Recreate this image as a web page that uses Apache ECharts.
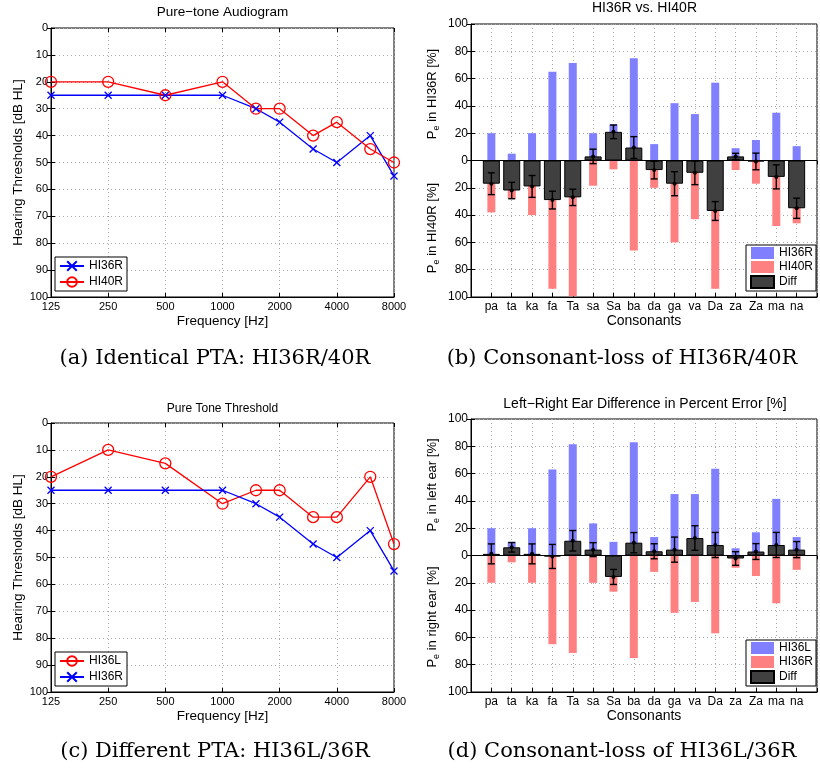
<!DOCTYPE html>
<html><head><meta charset="utf-8">
<script src="https://cdn.jsdelivr.net/npm/echarts@6/dist/echarts.min.js"></script>
<style>html,body{margin:0;padding:0;background:#fff}#c{width:820px;height:773px}</style>
</head><body><div id="c"></div>
<script>
// ---------- DATA ----------
const freqs = [125, 250, 500, 1000, 1500, 2000, 3000, 4000, 6000, 8000];
const freqTickLabels = ['125', '250', '500', '1000', '2000', '4000', '8000'];
const hi36R_thr = [25, 25, 25, 25, 30, 35, 45, 50, 40, 55];
const hi40R_thr = [20, 20, 25, 20, 30, 30, 40, 35, 45, 50];
const hi36L_thr = [20, 10, 15, 30, 25, 25, 35, 35, 20, 45];

const consonants = ['pa','ta','ka','fa','Ta','sa','Sa','ba','da','ga','va','Da','za','Za','ma','na'];
// percent error per consonant
const hi36R_pe = [20, 5, 20, 65, 71.5, 20, 26.5, 75, 12, 42, 34, 57, 9, 15, 35, 10.5];
const hi40R_pe = [38, 28, 40, 94, 99.5, 18.5, 6.5, 66, 20, 60, 43, 94, 7, 17, 48, 46];
const hi36L_pe = [20, 10, 20, 63, 81.5, 23.5, 10, 83, 13.5, 45, 45, 63.5, 5.3, 17, 41.5, 13.5];
// differences and error-bar half widths
const diffB = [-17, -22, -19, -29, -27, 3, 21, 9.5, -7, -17, -9, -37, 3, -0.7, -12, -35];
const errB  = [8, 6, 8, 6.5, 6, 5.3, 5, 8, 6.5, 8.8, 8.7, 6.9, 2.3, 6.1, 8.8, 7.4];
const diffD = [1.2, 6, 1.2, -0.7, 10.8, 4.3, -15.7, 9.4, 3.1, 4.3, 12.8, 7.7, -2.2, 2.9, 7.7, 4.3];
const errD  = [7.3, 3.5, 7.3, 8.8, 7.5, 5.1, 5.5, 7.4, 5.5, 9.2, 9, 9.2, 5, 5.8, 9.2, 5.9];

// ---------- CHART ----------
const FONT = 'Liberation Sans';
const SERIF = 'DejaVu Serif';
const chart = echarts.init(document.getElementById('c'), null, {renderer: 'canvas'});
const oct = f => Math.log(f / freqs[0]) / Math.LN2;
const dotted = {show: true, lineStyle: {type: [1, 3], color: '#a8a8a8', width: 1}};
const tick = {show: true, inside: true, length: 4, lineStyle: {color: '#000'}};
const line = {show: true, onZero: false, lineStyle: {color: '#000', width: 1}};
const nameStyle = sz => ({fontSize: sz, color: '#000', fontFamily: FONT});

const gridBase = {show: true, borderColor: '#000', borderWidth: 1, backgroundColor: '#fff'};
const grids = [
  Object.assign({left: 51, top: 28, width: 343, height: 269}, gridBase),
  Object.assign({left: 471, top: 24, width: 347, height: 273}, gridBase),
  Object.assign({left: 51, top: 423, width: 343, height: 269}, gridBase),
  Object.assign({left: 471, top: 419, width: 347, height: 273}, gridBase)
];

function audioX(g) {
  return [
    {type: 'value', gridIndex: g, min: 0, max: 6, interval: 1, position: 'bottom',
     axisLine: line, axisTick: tick, splitLine: dotted,
     axisLabel: {margin: 4, fontSize: 11, color: '#000', fontFamily: FONT, showMinLabel: true, showMaxLabel: true,
                 formatter: v => freqTickLabels[Math.round(v)] ?? ''},
     name: 'Frequency [Hz]', nameLocation: 'middle', nameGap: 17, nameTextStyle: nameStyle(13.5)},
    {type: 'value', gridIndex: g, min: 0, max: 6, interval: 1, position: 'top',
     axisLine: {show: false}, axisTick: tick, axisLabel: {show: false}, splitLine: {show: false}}
  ];
}
function audioY(g) {
  return [
    {type: 'value', gridIndex: g, inverse: true, min: 0, max: 100, interval: 10, position: 'left',
     axisLine: line, axisTick: tick, splitLine: dotted,
     axisLabel: {margin: 3, fontSize: 11, color: '#000', fontFamily: FONT, showMinLabel: true, showMaxLabel: true},
     name: 'Hearing Thresholds [dB HL]', nameLocation: 'middle', nameGap: 26, nameTextStyle: nameStyle(13.5)},
    {type: 'value', gridIndex: g, inverse: true, min: 0, max: 100, interval: 10, position: 'right',
     axisLine: {show: false}, axisTick: tick, axisLabel: {show: false}, splitLine: {show: false}}
  ];
}
function barX(g) {
  return [
    {type: 'value', gridIndex: g, min: 0, max: 17, interval: 1, position: 'bottom',
     axisLine: line, axisTick: tick, splitLine: dotted,
     axisLabel: {margin: 4, fontSize: 12, color: '#000', fontFamily: FONT,
                 formatter: v => consonants[Math.round(v) - 1] ?? ''},
     name: 'Consonants', nameLocation: 'middle', nameGap: 15, nameTextStyle: nameStyle(14)},
    {type: 'value', gridIndex: g, min: 0, max: 17, interval: 1, position: 'top',
     axisLine: {show: false}, axisTick: tick, axisLabel: {show: false}, splitLine: {show: false}}
  ];
}
function barY(g) {
  return [
    {type: 'value', gridIndex: g, min: -100, max: 100, interval: 20, position: 'left',
     axisLine: line, axisTick: tick, splitLine: dotted,
     axisLabel: {margin: 3, fontSize: 12, color: '#000', fontFamily: FONT, showMinLabel: true, showMaxLabel: true,
                 formatter: v => String(Math.abs(v))}},
    {type: 'value', gridIndex: g, min: -100, max: 100, interval: 20, position: 'right',
     axisLine: {show: false}, axisTick: tick, axisLabel: {show: false}, splitLine: {show: false}}
  ];
}

const XSYM = 'path://M0,0L10,10M10,0L0,10';
function blueX(name, xi, yi, vals) {
  return {name, type: 'line', xAxisIndex: xi, yAxisIndex: yi,
    data: freqs.map((f, i) => [oct(f), vals[i]]),
    symbol: XSYM, symbolSize: 7, showAllSymbol: true,
    lineStyle: {color: '#0000ff', width: 1.3},
    itemStyle: {color: '#0000ff', borderColor: '#0000ff', borderWidth: 1.3}, z: 3};
}
function redO(name, xi, yi, vals) {
  return {name, type: 'line', xAxisIndex: xi, yAxisIndex: yi,
    data: freqs.map((f, i) => [oct(f), vals[i]]),
    symbol: 'circle', symbolSize: 11, showAllSymbol: true,
    lineStyle: {color: '#ff0000', width: 1.3},
    itemStyle: {color: 'rgba(255,255,255,0)', borderColor: '#ff0000', borderWidth: 1.3}, z: 3};
}
function errRender(params, api) {
  const x = api.value(0), y = api.value(1), e = api.value(2);
  const t = api.coord([x, y + e]), b = api.coord([x, y - e]), m = api.coord([x, y]);
  const c = 3.5, st = {stroke: '#000', lineWidth: 1.4};
  return {type: 'group', children: [
    {type: 'line', shape: {x1: t[0], y1: t[1], x2: b[0], y2: b[1]}, style: st},
    {type: 'line', shape: {x1: t[0] - c, y1: t[1], x2: t[0] + c, y2: t[1]}, style: st},
    {type: 'line', shape: {x1: b[0] - c, y1: b[1], x2: b[0] + c, y2: b[1]}, style: st},
    {type: 'circle', shape: {cx: m[0], cy: m[1], r: 2}, style: {fill: '#000'}}
  ]};
}
function barSeries(prefix, xi, yi, upName, upVals, downName, downVals, diffVals, errVals) {
  return [
    {name: prefix + upName, type: 'bar', xAxisIndex: xi, yAxisIndex: yi, barWidth: 8, barGap: '-100%',
     data: consonants.map((c, i) => [i + 1, upVals[i]]), itemStyle: {color: '#8080ff'}, z: 2},
    {name: prefix + downName, type: 'bar', xAxisIndex: xi, yAxisIndex: yi, barWidth: 8, barGap: '-100%',
     data: consonants.map((c, i) => [i + 1, -downVals[i]]), itemStyle: {color: '#ff8080'}, z: 2},
    {name: prefix + 'Diff', type: 'bar', xAxisIndex: xi + 1, yAxisIndex: yi, barWidth: 17,
     data: consonants.map((c, i) => [i + 1, diffVals[i]]),
     itemStyle: {color: '#404040', borderColor: '#000', borderWidth: 1}, z: 3,
     markLine: {silent: true, symbol: 'none', label: {show: false}, animation: false,
                lineStyle: {color: '#000', width: 1.2, type: 'solid'}, data: [{yAxis: 0}]}},
    {type: 'custom', xAxisIndex: xi + 1, yAxisIndex: yi, renderItem: errRender, z: 4,
     encode: {x: 0, y: 1},
     data: consonants.map((c, i) => [i + 1, diffVals[i], errVals[i]])}
  ];
}

const legendBase = {orient: 'vertical', selectedMode: false, borderColor: '#000', borderWidth: 1,
  backgroundColor: '#fff', borderRadius: 0, textStyle: {fontSize: 12, color: '#000', fontFamily: FONT},
  formatter: n => n.slice(2)};

function txt(x, y, text, size, font, extra) {
  return Object.assign({type: 'text', x, y, z: 10,
    style: {text, fontSize: size, fontFamily: font, fill: '#000', align: 'center', verticalAlign: 'middle'}}, extra || {});
}
function peName(x, y, rest) {
  return {type: 'text', x, y, rotation: Math.PI / 2, z: 10,
    style: {text: 'P{s|e} ' + rest, fontSize: 13, fontFamily: FONT, fill: '#000', align: 'center', verticalAlign: 'middle',
            rich: {s: {fontSize: 9, fontFamily: FONT, fill: '#000', padding: [9, 0, 0, 0]}}}};
}

const option = {
  animation: false,
  backgroundColor: '#fff',
  grid: grids,
  xAxis: [...audioX(0), ...barX(1), ...audioX(2), ...barX(3)],
  yAxis: [...audioY(0), ...barY(1), ...audioY(2), ...barY(3)],
  legend: [
    Object.assign({data: ['a:HI36R', 'a:HI40R'], left: 55, top: 257, itemWidth: 24, itemHeight: 12, itemGap: 4, padding: [3, 4, 3, 4]}, legendBase),
    Object.assign({data: ['b:HI36R', 'b:HI40R', 'b:Diff'], left: 746, top: 245, itemWidth: 23, itemHeight: 12, itemGap: 2, padding: [2, 3, 2, 4], icon: 'rect'}, legendBase),
    Object.assign({data: ['c:HI36L', 'c:HI36R'], left: 55, top: 652, itemWidth: 24, itemHeight: 12, itemGap: 4, padding: [3, 4, 3, 4]}, legendBase),
    Object.assign({data: ['d:HI36L', 'd:HI36R', 'd:Diff'], left: 746, top: 640, itemWidth: 23, itemHeight: 12, itemGap: 2, padding: [2, 3, 2, 4], icon: 'rect'}, legendBase)
  ],
  series: [
    blueX('a:HI36R', 0, 0, hi36R_thr),
    redO('a:HI40R', 0, 0, hi40R_thr),
    ...barSeries('b:', 2, 2, 'HI36R', hi36R_pe, 'HI40R', hi40R_pe, diffB, errB),
    redO('c:HI36L', 4, 4, hi36L_thr),
    blueX('c:HI36R', 4, 4, hi36R_thr),
    ...barSeries('d:', 6, 6, 'HI36L', hi36L_pe, 'HI36R', hi36R_pe, diffD, errD)
  ],
  graphic: [
    txt(222.5, 12, 'Pure\u2212tone Audiogram', 13.5, FONT),
    txt(644.5, 8, 'HI36R vs. HI40R', 14, FONT),
    txt(222.5, 409, 'Pure Tone Threshold', 12, FONT),
    txt(645, 404, 'Left\u2212Right Ear Difference in Percent Error [%]', 14, FONT),
    peName(432, 94, 'in HI36R [%]'),
    peName(432, 228, 'in HI40R [%]'),
    peName(432, 485, 'in left ear [%]'),
    peName(432, 617, 'in right ear [%]'),
    txt(215, 359, '(a) Identical PTA: HI36R/40R', 21, SERIF),
    txt(622, 359, '(b) Consonant-loss of HI36R/40R', 21, SERIF),
    txt(215, 752, '(c) Different PTA: HI36L/36R', 21, SERIF),
    txt(622, 752, '(d) Consonant-loss of HI36L/36R', 21, SERIF)
  ]
};
chart.setOption(option);
</script></body></html>
